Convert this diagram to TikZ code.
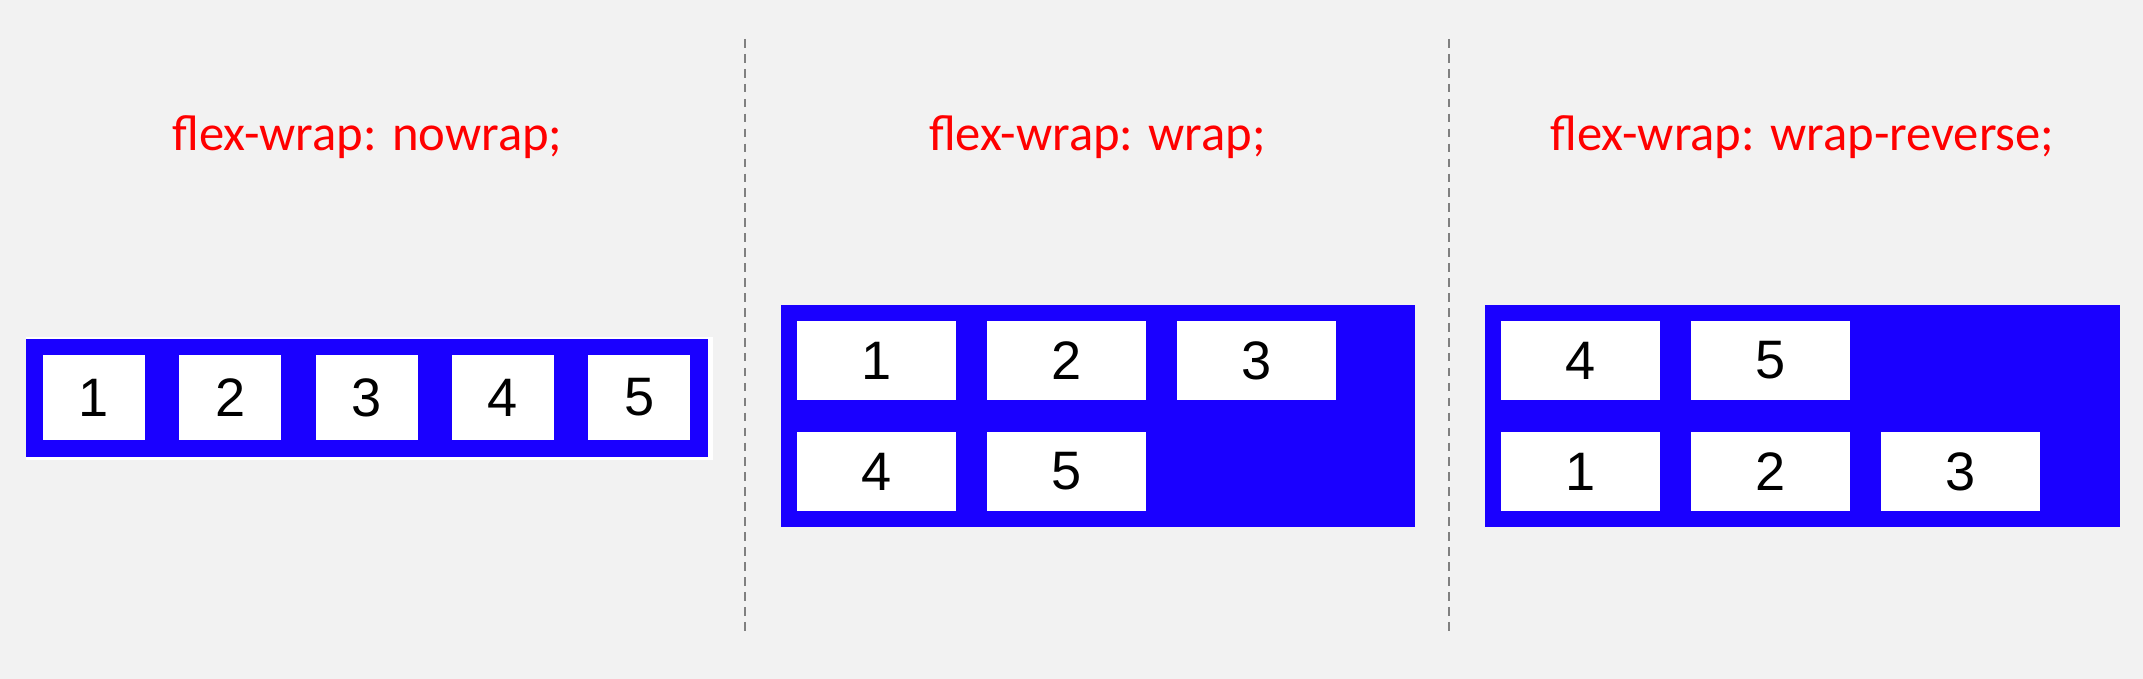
\documentclass[tikz,border=0pt]{standalone}
\usepackage{fontspec}
\setmainfont{Liberation Sans}
\newfontfamily\titlefont{Carlito}
\definecolor{flexblue}{RGB}{26,0,255}
\definecolor{pagegray}{RGB}{242,242,242}
\definecolor{sepgray}{RGB}{128,128,128}
\tikzset{
  container/.style={fill=flexblue,draw=none},
  item/.style={fill=white,draw=none,inner sep=0pt,minimum height=0.79cm,
    minimum width=1.59cm,font=\fontsize{15.4pt}{17pt}\selectfont},
  caption/.style={anchor=base,text=red,inner sep=0pt,font=\titlefont\fontsize{14.4pt}{16pt}\selectfont},
  divider/.style={draw=sepgray,line width=0.6pt,dash pattern=on 2.45pt off 1.8pt}
}
\begin{document}
\begin{tikzpicture}[x=0.01cm,y=-0.01cm]
\fill[pagegray] (0,0) rectangle (2143,679);
\useasboundingbox (0,0) rectangle (2143,679);
\draw[divider] (745,39) -- (745,633);
\draw[divider] (1449,39) -- (1449,633);
\node[caption] (cap1) at (367.5,151) {flex-wrap: nowrap;};
\node[caption] (cap2) at (1097.5,151) {flex-wrap: wrap;};
\node[caption] (cap3) at (1802.5,151) {flex-wrap: wrap-reverse;};
\fill[white] (26,337) rectangle (713,460);
\fill[container] (26,339) rectangle (708,457);
\foreach \i in {1,...,5}
  \node[item,minimum width=1.02cm,minimum height=0.85cm] (nw\i) at ({94+136.3*(\i-1)},397.5) {\i};
\fill[container] (781,305) rectangle (1415,527);
\foreach \i in {1,2,3}
  \node[item] (w\i) at ({876.5+190*(\i-1)},360.5) {\i};
\foreach \i/\c in {4/0,5/1}
  \node[item] (w\i) at ({876.5+190*\c},471.5) {\i};
\fill[container] (1485,305) rectangle (2120,527);
\foreach \i in {1,2,3}
  \node[item] (wr\i) at ({1580.5+190.2*(\i-1)},471.5) {\i};
\foreach \i/\c in {4/0,5/1}
  \node[item] (wr\i) at ({1580.5+190.2*\c},360.5) {\i};
\end{tikzpicture}
\end{document}
